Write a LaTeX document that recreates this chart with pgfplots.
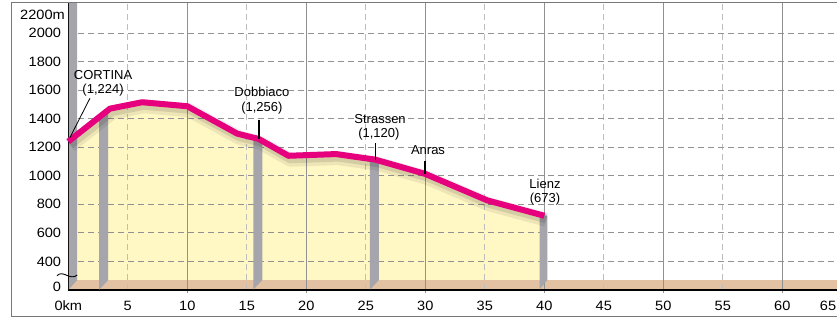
\documentclass[border=0pt]{standalone}
\usepackage{pgfplots}
\pgfplotsset{compat=1.18}
\usepackage{fontspec}
\setmainfont{Liberation Sans}
\newfontfamily\tickf[FakeStretch=1.08]{Liberation Sans}
\usetikzlibrary{calc}
\definecolor{mag}{RGB}{230,0,126}
\definecolor{yel}{RGB}{255,247,196}
\definecolor{brn}{RGB}{226,194,163}
\definecolor{barc}{RGB}{165,165,171}
\definecolor{grd}{RGB}{145,145,145}
\definecolor{grdl}{RGB}{190,190,190}
\definecolor{frm}{RGB}{120,120,120}
\newcommand{\lf}{\fontsize{13}{13}\selectfont}
\newcommand{\tf}{\tickf\fontsize{13.5}{13.5}\selectfont}
\begin{document}
\begin{tikzpicture}
\begin{axis}[
  set layers,
  scale only axis, width=768.7pt, height=287pt,
  xmin=0, xmax=64.6, ymin=200, ymax=2210,
  axis x line*=bottom, axis y line*=left,
  axis line style={black, line width=1pt, -},
  xtick={0,5,...,65},
  xticklabels={0km,5,10,15,20,25,30,35,40,45,50,55,60,},
  ytick={222,400,600,...,2000},
  yticklabels={0,400,600,800,1000,1200,1400,1600,1800,2000},
  extra x ticks={10,20,...,60}, extra x tick labels={},
  extra x tick style={major grid style={grd, solid, line width=0.8pt},
     major tick length=6pt, tick align=center, tick style={grd, line width=0.8pt}},
  extra y ticks={400,600,...,2000}, extra y tick labels={},
  extra y tick style={grid=major, major grid style={grd, dash pattern=on 6pt off 4pt, line width=0.8pt}},
  major tick length=0pt,
  xticklabel style={font=\tf, anchor=base, inner sep=0pt, yshift=-20pt},
  yticklabel style={font=\tf, anchor=east, inner sep=0pt, xshift=-7pt},
  xmajorgrids, ymajorgrids=false,
  major grid style={grdl, dash pattern=on 6pt off 4pt, line width=0.8pt},
  clip=false,
]
\coordinate (SW) at (rel axis cs:0,0);
\coordinate (NE) at (rel axis cs:1,1);
% yellow fill under profile
\addplot[draw=none, fill=yel, on layer=axis background] coordinates {(0,200) (0,1240) (3.5,1470) (6.2,1515) (10,1487) (14.2,1295) (16,1258) (18.5,1140) (22.5,1152) (25.8,1113) (30,1013) (35.2,828) (40,720) (40,200)};
% floor
\addplot[draw=none, fill=brn, on layer=axis background] coordinates {(0.05,203) (0.75,270) (64.6,270) (64.6,203)};
% bars
\addplot[draw=none, fill=barc] coordinates {(0.05,203) (0.75,270) (0.75,2210) (0.05,2210)};
\addplot[draw=none, fill=barc] coordinates {(2.6,203) (3.35,270) (3.35,1460) (2.6,1411)};
\addplot[draw=none, fill=barc] coordinates {(15.55,203) (16.3,270) (16.3,1244) (15.55,1267)};
\addplot[draw=none, fill=barc] coordinates {(25.35,203) (26.1,270) (26.1,1106) (25.35,1118)};
\addplot[draw=none, fill=barc] coordinates {(39.6,203) (40.25,270) (40.25,720) (39.6,729)};
% shadow
\addplot[black, opacity=0.07, line width=14pt, xshift=2pt, yshift=-4pt, line join=round, mark=none] coordinates {(0,1240) (3.5,1470) (6.2,1515) (10,1487) (14.2,1295) (16,1258) (18.5,1140) (22.5,1152) (25.8,1113) (30,1013) (35.2,828) (40,720)};
\addplot[black, opacity=0.10, line width=9pt, xshift=2pt, yshift=-3pt, line join=round, mark=none] coordinates {(0,1240) (3.5,1470) (6.2,1515) (10,1487) (14.2,1295) (16,1258) (18.5,1140) (22.5,1152) (25.8,1113) (30,1013) (35.2,828) (40,720)};
% profile line
\addplot[mag, line width=6pt, line join=round, mark=none] coordinates {(0,1240) (3.5,1470) (6.2,1515) (10,1487) (14.2,1295) (16,1258) (18.5,1140) (22.5,1152) (25.8,1113) (30,1013) (35.2,828) (40,720)};
% labels
\node[font=\lf] at (axis cs:2.92,1705) {CORTINA};
\node[font=\lf] at (axis cs:2.92,1599) {(1,224)};
\draw[black, line width=0.8pt] (axis cs:1.82,1543) -- (axis cs:0.14,1268);
\node[font=\lf] at (axis cs:16.27,1585) {Dobbiaco};
\node[font=\lf] at (axis cs:16.27,1472) {(1,256)};
\draw[black, line width=1.3pt] (axis cs:16.02,1394) -- (axis cs:16.02,1259);
\node[font=\lf] at (axis cs:26.2,1394) {Strassen};
\node[font=\lf] at (axis cs:26.1,1289) {(1,120)};
\draw[black, line width=1.3pt] (axis cs:25.83,1228) -- (axis cs:25.83,1113);
\node[font=\lf] at (axis cs:30.23,1177) {Anras};
\draw[black, line width=1.3pt] (axis cs:29.97,1106) -- (axis cs:29.97,1013);
\node[font=\lf] at (axis cs:40.06,944) {Lienz};
\node[font=\lf] at (axis cs:40.06,838) {(673)};
% top label and last tick label
\node[font=\tf, anchor=north east, inner sep=0pt] at ($(axis cs:0,2200)+(-3.3pt,-5pt)$) {2200m};
\node[font=\tf, anchor=base east, inner sep=0pt] at ($(NE|-SW)+(-0.6pt,-20pt)$) {65};
% axis break
\draw[black, line width=0.9pt] (axis cs:-0.95,300) .. controls (axis cs:-0.45,345) and (axis cs:0.15,262) .. (axis cs:0.75,305);
% outer frame
\draw[frm, line width=1pt] (axis cs:-4.8,17) rectangle (axis cs:70,2210);
\end{axis}
\pgfresetboundingbox
\path ($(SW)+(-68.3pt,-29pt)$) rectangle ($(NE)+(0pt,3pt)$);
\end{tikzpicture}
\end{document}
